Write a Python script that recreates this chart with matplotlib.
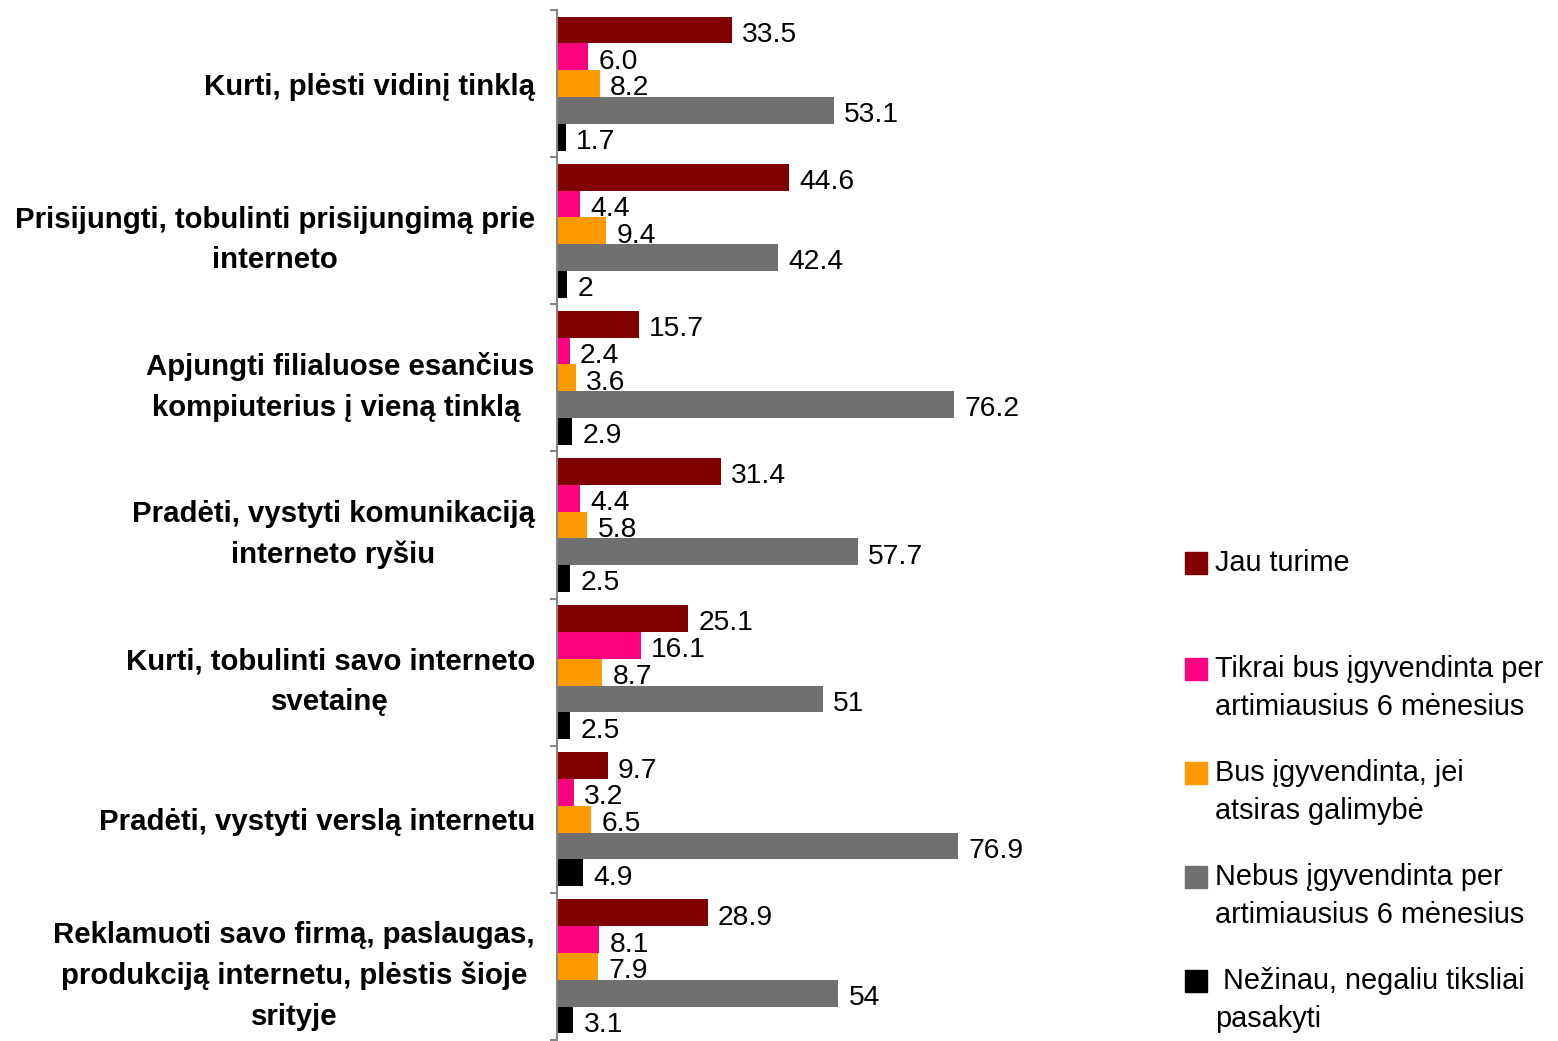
import matplotlib.pyplot as plt
from matplotlib.patches import Rectangle

plt.rcParams['font.family'] = ['Liberation Sans', 'DejaVu Sans']

categories = [
    "Kurti, plėsti vidinį tinklą",
    "Prisijungti, tobulinti prisijungimą prie\ninterneto",
    "Apjungti filialuose esančius\nkompiuterius į vieną tinklą ",
    "Pradėti, vystyti komunikaciją\ninterneto ryšiu",
    "Kurti, tobulinti savo interneto\nsvetainę",
    "Pradėti, vystyti verslą internetu",
    "Reklamuoti savo firmą, paslaugas,\nprodukciją internetu, plėstis šioje\nsrityje",
]

# values as shown on the data labels
jau_turime = ["33.5", "44.6", "15.7", "31.4", "25.1", "9.7", "28.9"]
tikrai_bus = ["6.0", "4.4", "2.4", "4.4", "16.1", "3.2", "8.1"]
bus_jei = ["8.2", "9.4", "3.6", "5.8", "8.7", "6.5", "7.9"]
nebus = ["53.1", "42.4", "76.2", "57.7", "51", "76.9", "54"]
nezinau = ["1.7", "2", "2.9", "2.5", "2.5", "4.9", "3.1"]

series_names = [
    "Jau turime",
    "Tikrai bus įgyvendinta per\nartimiausius 6 mėnesius",
    "Bus įgyvendinta, jei\natsiras galimybė",
    "Nebus įgyvendinta per\nartimiausius 6 mėnesius",
    " Nežinau, negaliu tiksliai\npasakyti",
]
series = [jau_turime, tikrai_bus, bus_jei, nebus, nezinau]
colors = ["#800000", "#FF0080", "#FF9900", "#707070", "#000000"]

W, H = 1558, 1041
fig = plt.figure(figsize=(W / 100, H / 100), dpi=100)
ax = fig.add_axes([557 / W, 1 - 1040 / H, 90 * 5.21 / W, 1030 / H])

h = 0.182
for i, (vals, col) in enumerate(zip(series, colors)):
    ys = [k + (i - 2) * h for k in range(len(categories))]
    nums = [float(v) for v in vals]
    ax.barh(ys, nums, height=h, color=col, linewidth=0)
    for y, n, lab in zip(ys, nums, vals):
        ax.annotate(lab, (n, y), xytext=(7.5, -3.5), textcoords="offset points",
                    ha="left", va="center", fontsize=20.3)

ax.set_xlim(0, 90)
ax.set_ylim(6.5, -0.5)
ax.set_xticks([])
ax.set_yticks(range(len(categories)))
ax.set_yticklabels(categories, fontsize=21.2, fontweight="bold")
for t in ax.get_yticklabels():
    t.set_multialignment("center")
    t.set_linespacing(1.58)
ax.tick_params(axis="y", which="major", length=0, pad=16)
ax.set_yticks([k - 0.5 for k in range(len(categories) + 1)], minor=True)
ax.tick_params(axis="y", which="minor", length=5, width=1.5, color="#868686")

for s in ["top", "right", "bottom"]:
    ax.spines[s].set_visible(False)
ax.spines["left"].set_color("#868686")
ax.spines["left"].set_linewidth(1.5)

# legend drawn by hand: square aligned with first text line
tops = [552, 658, 762, 866, 970]
for name, col, top in zip(series_names, colors, tops):
    fig.patches.append(Rectangle((1185 / W, 1 - (top + 22) / H), 22 / W, 22 / H,
                                 transform=fig.transFigure, color=col))
    fig.text(1215 / W, 1 - (top - 3) / H, name, fontsize=20.8, va="top", ha="left",
             linespacing=1.45)

fig.savefig("out.png", dpi=100)
